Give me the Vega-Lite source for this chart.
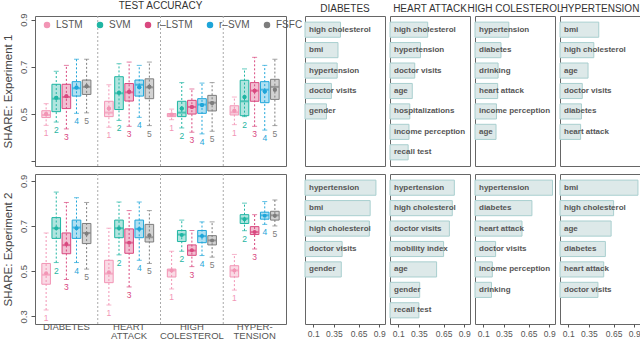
{
  "$schema": "https://vega.github.io/schema/vega-lite/v6.json",
  "padding": {"top": 0, "left": 1, "right": 1, "bottom": 0},
  "background": "white",
  "config": {
    "font": "Liberation Sans",
    "view": {"stroke": "#666", "strokeWidth": 1},
    "title": {"fontSize": 10, "fontWeight": "normal", "color": "#333", "offset": 2},
    "axis": {"labelColor": "#555", "tickColor": "#555", "titleColor": "#444"}
  },
  "datasets": {
    "box": [
      {"exp": 1, "disease": "DIABETES", "model": "LSTM", "m": "1", "lo": 0.452, "q1": 0.485, "med": 0.496, "q3": 0.514, "hi": 0.544, "mean": 0.5},
      {"exp": 1, "disease": "DIABETES", "model": "SVM", "m": "2", "lo": 0.466, "q1": 0.51, "med": 0.565, "q3": 0.626, "hi": 0.681, "mean": 0.569},
      {"exp": 1, "disease": "DIABETES", "model": "r–LSTM", "m": "3", "lo": 0.437, "q1": 0.523, "med": 0.572, "q3": 0.626, "hi": 0.706, "mean": 0.575},
      {"exp": 1, "disease": "DIABETES", "model": "r–SVM", "m": "4", "lo": 0.503, "q1": 0.576, "med": 0.609, "q3": 0.637, "hi": 0.732, "mean": 0.612},
      {"exp": 1, "disease": "DIABETES", "model": "FSFC", "m": "5", "lo": 0.505, "q1": 0.583, "med": 0.615, "q3": 0.644, "hi": 0.732, "mean": 0.618},
      {"exp": 1, "disease": "HEART ATTACK", "model": "LSTM", "m": "1", "lo": 0.444, "q1": 0.489, "med": 0.506, "q3": 0.554, "hi": 0.624, "mean": 0.523},
      {"exp": 1, "disease": "HEART ATTACK", "model": "SVM", "m": "2", "lo": 0.473, "q1": 0.519, "med": 0.588, "q3": 0.658, "hi": 0.713, "mean": 0.59},
      {"exp": 1, "disease": "HEART ATTACK", "model": "r–LSTM", "m": "3", "lo": 0.448, "q1": 0.555, "med": 0.592, "q3": 0.629, "hi": 0.72, "mean": 0.594},
      {"exp": 1, "disease": "HEART ATTACK", "model": "r–SVM", "m": "4", "lo": 0.486, "q1": 0.576, "med": 0.624, "q3": 0.644, "hi": 0.706, "mean": 0.613},
      {"exp": 1, "disease": "HEART ATTACK", "model": "FSFC", "m": "5", "lo": 0.451, "q1": 0.565, "med": 0.613, "q3": 0.649, "hi": 0.72, "mean": 0.615},
      {"exp": 1, "disease": "HIGH COLESTEROL", "model": "LSTM", "m": "1", "lo": 0.476, "q1": 0.489, "med": 0.496, "q3": 0.502, "hi": 0.521, "mean": 0.498},
      {"exp": 1, "disease": "HIGH COLESTEROL", "model": "SVM", "m": "2", "lo": 0.441, "q1": 0.489, "med": 0.506, "q3": 0.554, "hi": 0.633, "mean": 0.523},
      {"exp": 1, "disease": "HIGH COLESTEROL", "model": "r–LSTM", "m": "3", "lo": 0.423, "q1": 0.5, "med": 0.53, "q3": 0.558, "hi": 0.606, "mean": 0.53},
      {"exp": 1, "disease": "HIGH COLESTEROL", "model": "r–SVM", "m": "4", "lo": 0.416, "q1": 0.503, "med": 0.54, "q3": 0.565, "hi": 0.631, "mean": 0.538},
      {"exp": 1, "disease": "HIGH COLESTEROL", "model": "FSFC", "m": "5", "lo": 0.427, "q1": 0.513, "med": 0.548, "q3": 0.579, "hi": 0.633, "mean": 0.547},
      {"exp": 1, "disease": "HYPERTENSION", "model": "LSTM", "m": "1", "lo": 0.455, "q1": 0.496, "med": 0.507, "q3": 0.535, "hi": 0.572, "mean": 0.514},
      {"exp": 1, "disease": "HYPERTENSION", "model": "SVM", "m": "2", "lo": 0.489, "q1": 0.493, "med": 0.554, "q3": 0.643, "hi": 0.691, "mean": 0.572},
      {"exp": 1, "disease": "HYPERTENSION", "model": "r–LSTM", "m": "3", "lo": 0.448, "q1": 0.554, "med": 0.599, "q3": 0.633, "hi": 0.74, "mean": 0.599},
      {"exp": 1, "disease": "HYPERTENSION", "model": "r–SVM", "m": "4", "lo": 0.432, "q1": 0.548, "med": 0.603, "q3": 0.637, "hi": 0.706, "mean": 0.595},
      {"exp": 1, "disease": "HYPERTENSION", "model": "FSFC", "m": "5", "lo": 0.451, "q1": 0.562, "med": 0.615, "q3": 0.647, "hi": 0.732, "mean": 0.603},
      {"exp": 2, "disease": "DIABETES", "model": "LSTM", "m": "1", "lo": 0.328, "q1": 0.442, "med": 0.484, "q3": 0.534, "hi": 0.669, "mean": 0.491},
      {"exp": 2, "disease": "DIABETES", "model": "SVM", "m": "2", "lo": 0.538, "q1": 0.645, "med": 0.69, "q3": 0.737, "hi": 0.85, "mean": 0.69},
      {"exp": 2, "disease": "DIABETES", "model": "r–LSTM", "m": "3", "lo": 0.463, "q1": 0.577, "med": 0.615, "q3": 0.669, "hi": 0.804, "mean": 0.62},
      {"exp": 2, "disease": "DIABETES", "model": "r–SVM", "m": "4", "lo": 0.538, "q1": 0.645, "med": 0.693, "q3": 0.726, "hi": 0.825, "mean": 0.69},
      {"exp": 2, "disease": "DIABETES", "model": "FSFC", "m": "5", "lo": 0.509, "q1": 0.622, "med": 0.669, "q3": 0.711, "hi": 0.804, "mean": 0.665},
      {"exp": 2, "disease": "HEART ATTACK", "model": "LSTM", "m": "1", "lo": 0.35, "q1": 0.449, "med": 0.489, "q3": 0.548, "hi": 0.69, "mean": 0.495},
      {"exp": 2, "disease": "HEART ATTACK", "model": "SVM", "m": "2", "lo": 0.572, "q1": 0.648, "med": 0.69, "q3": 0.726, "hi": 0.806, "mean": 0.69},
      {"exp": 2, "disease": "HEART ATTACK", "model": "r–LSTM", "m": "3", "lo": 0.43, "q1": 0.579, "med": 0.626, "q3": 0.687, "hi": 0.768, "mean": 0.626},
      {"exp": 2, "disease": "HEART ATTACK", "model": "r–SVM", "m": "4", "lo": 0.548, "q1": 0.648, "med": 0.687, "q3": 0.726, "hi": 0.806, "mean": 0.687},
      {"exp": 2, "disease": "HEART ATTACK", "model": "FSFC", "m": "5", "lo": 0.534, "q1": 0.629, "med": 0.65, "q3": 0.707, "hi": 0.768, "mean": 0.659},
      {"exp": 2, "disease": "HIGH COLESTEROL", "model": "LSTM", "m": "1", "lo": 0.421, "q1": 0.474, "med": 0.503, "q3": 0.509, "hi": 0.588, "mean": 0.503},
      {"exp": 2, "disease": "HIGH COLESTEROL", "model": "SVM", "m": "2", "lo": 0.588, "q1": 0.631, "med": 0.662, "q3": 0.68, "hi": 0.726, "mean": 0.66},
      {"exp": 2, "disease": "HIGH COLESTEROL", "model": "r–LSTM", "m": "3", "lo": 0.52, "q1": 0.57, "med": 0.591, "q3": 0.616, "hi": 0.68, "mean": 0.592},
      {"exp": 2, "disease": "HIGH COLESTEROL", "model": "r–SVM", "m": "4", "lo": 0.569, "q1": 0.626, "med": 0.655, "q3": 0.68, "hi": 0.718, "mean": 0.655},
      {"exp": 2, "disease": "HIGH COLESTEROL", "model": "FSFC", "m": "5", "lo": 0.562, "q1": 0.616, "med": 0.636, "q3": 0.657, "hi": 0.718, "mean": 0.636},
      {"exp": 2, "disease": "HYPERTENSION", "model": "LSTM", "m": "1", "lo": 0.416, "q1": 0.474, "med": 0.503, "q3": 0.524, "hi": 0.574, "mean": 0.503},
      {"exp": 2, "disease": "HYPERTENSION", "model": "SVM", "m": "2", "lo": 0.679, "q1": 0.711, "med": 0.733, "q3": 0.75, "hi": 0.801, "mean": 0.73},
      {"exp": 2, "disease": "HYPERTENSION", "model": "r–LSTM", "m": "3", "lo": 0.598, "q1": 0.662, "med": 0.673, "q3": 0.697, "hi": 0.75, "mean": 0.673},
      {"exp": 2, "disease": "HYPERTENSION", "model": "r–SVM", "m": "4", "lo": 0.707, "q1": 0.73, "med": 0.747, "q3": 0.761, "hi": 0.808, "mean": 0.745},
      {"exp": 2, "disease": "HYPERTENSION", "model": "FSFC", "m": "5", "lo": 0.7, "q1": 0.726, "med": 0.747, "q3": 0.765, "hi": 0.815, "mean": 0.745}
    ],
    "bars": [
      {"exp": 1, "target": "DIABETES", "rank": 1, "feature": "high cholesterol", "imp": 0.43},
      {"exp": 1, "target": "DIABETES", "rank": 2, "feature": "bmi", "imp": 0.40},
      {"exp": 1, "target": "DIABETES", "rank": 3, "feature": "hypertension", "imp": 0.39},
      {"exp": 1, "target": "DIABETES", "rank": 4, "feature": "doctor visits", "imp": 0.32},
      {"exp": 1, "target": "DIABETES", "rank": 5, "feature": "gender", "imp": 0.26},
      {"exp": 1, "target": "HEART ATTACK", "rank": 1, "feature": "high cholesterol", "imp": 0.457},
      {"exp": 1, "target": "HEART ATTACK", "rank": 2, "feature": "hypertension", "imp": 0.37},
      {"exp": 1, "target": "HEART ATTACK", "rank": 3, "feature": "doctor visits", "imp": 0.30},
      {"exp": 1, "target": "HEART ATTACK", "rank": 4, "feature": "age", "imp": 0.27},
      {"exp": 1, "target": "HEART ATTACK", "rank": 5, "feature": "hospitalizations", "imp": 0.24},
      {"exp": 1, "target": "HEART ATTACK", "rank": 6, "feature": "income perception", "imp": 0.23},
      {"exp": 1, "target": "HEART ATTACK", "rank": 7, "feature": "recall test", "imp": 0.22},
      {"exp": 1, "target": "HIGH COLESTEROL", "rank": 1, "feature": "hypertension", "imp": 0.41},
      {"exp": 1, "target": "HIGH COLESTEROL", "rank": 2, "feature": "diabetes", "imp": 0.315},
      {"exp": 1, "target": "HIGH COLESTEROL", "rank": 3, "feature": "drinking", "imp": 0.28},
      {"exp": 1, "target": "HIGH COLESTEROL", "rank": 4, "feature": "heart attack", "imp": 0.275},
      {"exp": 1, "target": "HIGH COLESTEROL", "rank": 5, "feature": "income perception", "imp": 0.26},
      {"exp": 1, "target": "HIGH COLESTEROL", "rank": 6, "feature": "age", "imp": 0.255},
      {"exp": 1, "target": "HYPERTENSION", "rank": 1, "feature": "bmi", "imp": 0.47},
      {"exp": 1, "target": "HYPERTENSION", "rank": 2, "feature": "high cholesterol", "imp": 0.41},
      {"exp": 1, "target": "HYPERTENSION", "rank": 3, "feature": "age", "imp": 0.34},
      {"exp": 1, "target": "HYPERTENSION", "rank": 4, "feature": "doctor visits", "imp": 0.27},
      {"exp": 1, "target": "HYPERTENSION", "rank": 5, "feature": "diabetes", "imp": 0.26},
      {"exp": 1, "target": "HYPERTENSION", "rank": 6, "feature": "heart attack", "imp": 0.25},
      {"exp": 2, "target": "DIABETES", "rank": 1, "feature": "hypertension", "imp": 0.86},
      {"exp": 2, "target": "DIABETES", "rank": 2, "feature": "bmi", "imp": 0.79},
      {"exp": 2, "target": "DIABETES", "rank": 3, "feature": "high cholesterol", "imp": 0.78},
      {"exp": 2, "target": "DIABETES", "rank": 4, "feature": "doctor visits", "imp": 0.45},
      {"exp": 2, "target": "DIABETES", "rank": 5, "feature": "gender", "imp": 0.44},
      {"exp": 2, "target": "HEART ATTACK", "rank": 1, "feature": "hypertension", "imp": 0.78},
      {"exp": 2, "target": "HEART ATTACK", "rank": 2, "feature": "high cholesterol", "imp": 0.755},
      {"exp": 2, "target": "HEART ATTACK", "rank": 3, "feature": "doctor visits", "imp": 0.72},
      {"exp": 2, "target": "HEART ATTACK", "rank": 4, "feature": "mobility index", "imp": 0.65},
      {"exp": 2, "target": "HEART ATTACK", "rank": 5, "feature": "age", "imp": 0.565},
      {"exp": 2, "target": "HEART ATTACK", "rank": 6, "feature": "gender", "imp": 0.36},
      {"exp": 2, "target": "HEART ATTACK", "rank": 7, "feature": "recall test", "imp": 0.35},
      {"exp": 2, "target": "HIGH COLESTEROL", "rank": 1, "feature": "hypertension", "imp": 0.94},
      {"exp": 2, "target": "HIGH COLESTEROL", "rank": 2, "feature": "diabetes", "imp": 0.69},
      {"exp": 2, "target": "HIGH COLESTEROL", "rank": 3, "feature": "heart attack", "imp": 0.57},
      {"exp": 2, "target": "HIGH COLESTEROL", "rank": 4, "feature": "doctor visits", "imp": 0.25},
      {"exp": 2, "target": "HIGH COLESTEROL", "rank": 5, "feature": "income perception", "imp": 0.21},
      {"exp": 2, "target": "HIGH COLESTEROL", "rank": 6, "feature": "drinking", "imp": 0.20},
      {"exp": 2, "target": "HYPERTENSION", "rank": 1, "feature": "bmi", "imp": 0.945},
      {"exp": 2, "target": "HYPERTENSION", "rank": 2, "feature": "high cholesterol", "imp": 0.65},
      {"exp": 2, "target": "HYPERTENSION", "rank": 3, "feature": "age", "imp": 0.62},
      {"exp": 2, "target": "HYPERTENSION", "rank": 4, "feature": "diabetes", "imp": 0.55},
      {"exp": 2, "target": "HYPERTENSION", "rank": 5, "feature": "heart attack", "imp": 0.53},
      {"exp": 2, "target": "HYPERTENSION", "rank": 6, "feature": "doctor visits", "imp": 0.46}
    ]
  },
  "hconcat": [
    {
      "vconcat": [
        {
          "width": 251, "height": 150,
          "data": {"name": "box"},
          "transform": [{"filter": "datum.exp == 1"}],
          "title": {"text": "TEST ACCURACY"},
          "layer": [
            {
              "transform": [{"filter": "datum.model == 'LSTM' && datum.disease != 'DIABETES'"}],
              "mark": {"type": "rule", "strokeDash": [2, 2], "color": "#aaaaaa", "strokeWidth": 1},
              "encoding": {"x": {"field": "disease", "type": "nominal", "bandPosition": 0, "sort": null, "scale": {"domain": ["DIABETES", "HEART ATTACK", "HIGH COLESTEROL", "HYPERTENSION"], "paddingInner": 0, "paddingOuter": 0}, "axis": null}}
            },
            {
              "encoding": {
                "x": {"field": "disease", "type": "nominal", "sort": null, "axis": null},
                "xOffset": {"field": "model", "type": "nominal", "sort": null, "scale": {"domain": ["LSTM", "SVM", "r–LSTM", "r–SVM", "FSFC"], "paddingInner": 0.15, "paddingOuter": 0.675}},
                "color": {"field": "model", "type": "nominal", "sort": null, "scale": {"domain": ["LSTM", "SVM", "r–LSTM", "r–SVM", "FSFC"], "range": ["#f295b5", "#1fb5a3", "#d9487f", "#1ea5d9", "#7d7d7d"]}, "legend": null}
              },
              "layer": [
                {
                  "mark": {"type": "point", "filled": true, "opacity": 1, "size": 16, "shape": "circle"},
                  "encoding": {
                    "y": {"field": "mean", "type": "quantitative", "scale": {"domain": [0.28, 0.915], "nice": false, "zero": false},
                      "axis": {"title": "SHARE: Experiment 1", "values": [0.3, 0.4, 0.5, 0.6, 0.7, 0.8, 0.9], "labelExpr": "datum.value < 0.35 ? '' : datum.label", "labelAngle": -90, "labelAlign": "center", "labelBaseline": "bottom", "labelFontSize": 9.5, "labelPadding": 3, "tickSize": 4, "domain": false, "grid": false, "titleFontSize": 11.5, "titleFontWeight": "normal", "titlePadding": 5}},
                    "color": {"field": "model", "type": "nominal", "sort": null, "legend": {"title": null, "orient": "none", "legendX": 7, "legendY": 4, "direction": "horizontal", "columns": 5, "gridAlign": "none", "symbolType": "circle", "symbolSize": 25, "labelFontSize": 10, "labelColor": "#555", "columnPadding": 11, "labelOffset": 4, "padding": 0}}
                  }
                },
                {"mark": {"type": "rule", "strokeDash": [2, 2], "strokeWidth": 1}, "encoding": {"y": {"field": "lo", "type": "quantitative"}, "y2": {"field": "hi"}}},
                {"mark": {"type": "tick", "size": 5, "thickness": 1}, "encoding": {"y": {"field": "hi", "type": "quantitative"}}},
                {"mark": {"type": "tick", "size": 5, "thickness": 1}, "encoding": {"y": {"field": "lo", "type": "quantitative"}}},
                {"mark": {"type": "bar", "fillOpacity": 0.35, "strokeWidth": 1}, "encoding": {"y": {"field": "q1", "type": "quantitative"}, "y2": {"field": "q3"}, "stroke": {"field": "model", "type": "nominal", "sort": null, "scale": {"domain": ["LSTM", "SVM", "r–LSTM", "r–SVM", "FSFC"], "range": ["#f295b5", "#1fb5a3", "#d9487f", "#1ea5d9", "#7d7d7d"]}, "legend": null}}},
                {"mark": {"type": "tick", "size": 8, "thickness": 2}, "encoding": {"y": {"field": "med", "type": "quantitative"}}},
                {"mark": {"type": "point", "filled": true, "opacity": 1, "size": 16, "shape": "circle"}, "encoding": {"y": {"field": "mean", "type": "quantitative"}}},
                {"mark": {"type": "text", "baseline": "top", "dy": 4, "fontSize": 8.5}, "encoding": {"y": {"field": "lo", "type": "quantitative"}, "text": {"field": "m"}}}
              ]
            }
          ]
        },
        {
          "width": 251, "height": 150,
          "data": {"name": "box"},
          "transform": [{"filter": "datum.exp == 2"}],
          "layer": [
            {
              "transform": [{"filter": "datum.model == 'LSTM' && datum.disease != 'DIABETES'"}],
              "mark": {"type": "rule", "strokeDash": [2, 2], "color": "#aaaaaa", "strokeWidth": 1},
              "encoding": {"x": {"field": "disease", "type": "nominal", "bandPosition": 0, "sort": null, "scale": {"domain": ["DIABETES", "HEART ATTACK", "HIGH COLESTEROL", "HYPERTENSION"], "paddingInner": 0, "paddingOuter": 0},
                "axis": {"title": null, "ticks": false, "domain": false, "labelAngle": 0, "labelFontSize": 9.5, "labelColor": "#555", "labelPadding": 2, "labelBaseline": "middle", "labelLineHeight": 9.5, "labelOverlap": false, "labelExpr": "datum.value == 'HEART ATTACK' ? ['HEART', 'ATTACK'] : datum.value == 'HIGH COLESTEROL' ? ['HIGH', 'COLESTEROL'] : datum.value == 'HYPERTENSION' ? ['HYPER-', 'TENSION'] : datum.value",
                  "encode": {"labels": {"update": {"dy": {"signal": "datum.value == 'DIABETES' ? 5 : 0"}}}}}}}
            },
            {
              "encoding": {
                "x": {"field": "disease", "type": "nominal", "sort": null},
                "xOffset": {"field": "model", "type": "nominal", "sort": null, "scale": {"domain": ["LSTM", "SVM", "r–LSTM", "r–SVM", "FSFC"], "paddingInner": 0.15, "paddingOuter": 0.675}},
                "color": {"field": "model", "type": "nominal", "sort": null, "scale": {"domain": ["LSTM", "SVM", "r–LSTM", "r–SVM", "FSFC"], "range": ["#f295b5", "#1fb5a3", "#d9487f", "#1ea5d9", "#7d7d7d"]}, "legend": null}
              },
              "layer": [
                {"mark": {"type": "rule", "strokeDash": [2, 2], "strokeWidth": 1}, "encoding": {"y": {"field": "lo", "type": "quantitative", "scale": {"domain": [0.266, 0.93], "nice": false, "zero": false},
                  "axis": {"title": "SHARE: Experiment 2", "values": [0.3, 0.4, 0.5, 0.6, 0.7, 0.8, 0.9], "labelAngle": -90, "labelAlign": "center", "labelBaseline": "bottom", "labelFontSize": 9.5, "labelPadding": 3, "tickSize": 4, "domain": false, "grid": false, "titleFontSize": 11.5, "titleFontWeight": "normal", "titlePadding": 5}}, "y2": {"field": "hi"}}},
                {"mark": {"type": "tick", "size": 5, "thickness": 1}, "encoding": {"y": {"field": "hi", "type": "quantitative"}}},
                {"mark": {"type": "tick", "size": 5, "thickness": 1}, "encoding": {"y": {"field": "lo", "type": "quantitative"}}},
                {"mark": {"type": "bar", "fillOpacity": 0.35, "strokeWidth": 1}, "encoding": {"y": {"field": "q1", "type": "quantitative"}, "y2": {"field": "q3"}, "stroke": {"field": "model", "type": "nominal", "sort": null, "scale": {"domain": ["LSTM", "SVM", "r–LSTM", "r–SVM", "FSFC"], "range": ["#f295b5", "#1fb5a3", "#d9487f", "#1ea5d9", "#7d7d7d"]}, "legend": null}}},
                {"mark": {"type": "tick", "size": 8, "thickness": 2}, "encoding": {"y": {"field": "med", "type": "quantitative"}}},
                {"mark": {"type": "point", "filled": true, "opacity": 1, "size": 16, "shape": "circle"}, "encoding": {"y": {"field": "mean", "type": "quantitative"}}},
                {"mark": {"type": "text", "baseline": "top", "dy": 4, "fontSize": 8.5}, "encoding": {"y": {"field": "lo", "type": "quantitative"}, "text": {"field": "m"}}}
              ]
            }
          ]
        }
      ],
      "spacing": 6,
      "resolve": {"scale": {"y": "independent", "color": "independent", "stroke": "independent"}, "legend": {"color": "independent"}}
    },
    {
      "vconcat": [
        {
          "hconcat": [
            {
              "width": 80, "height": 150, "title": "DIABETES",
              "data": {"name": "bars"},
              "transform": [{"filter": "datum.exp == 1 && datum.target == 'DIABETES'"}],
              "encoding": {"y": {"field": "rank", "type": "ordinal", "scale": {"domain": [1, 2, 3, 4, 5, 6, 7], "paddingInner": 0.26, "paddingOuter": 0.3}, "axis": null}},
              "layer": [
                {"mark": {"type": "bar", "fill": "#dde9e9", "stroke": "#a9cfcf", "strokeWidth": 1}, "encoding": {"x": {"field": "imp", "type": "quantitative", "scale": {"domain": [0, 0.97], "nice": false}, "axis": null}}},
                {"mark": {"type": "text", "align": "left", "dx": 4, "fontSize": 8, "fontWeight": "bold", "fill": "#555"}, "encoding": {"x": {"datum": 0, "type": "quantitative", "axis": null}, "text": {"field": "feature"}}}
              ]
            },
            {
              "width": 80, "height": 150, "title": "HEART ATTACK",
              "data": {"name": "bars"},
              "transform": [{"filter": "datum.exp == 1 && datum.target == 'HEART ATTACK'"}],
              "encoding": {"y": {"field": "rank", "type": "ordinal", "scale": {"domain": [1, 2, 3, 4, 5, 6, 7], "paddingInner": 0.26, "paddingOuter": 0.3}, "axis": null}},
              "layer": [
                {"mark": {"type": "bar", "fill": "#dde9e9", "stroke": "#a9cfcf", "strokeWidth": 1}, "encoding": {"x": {"field": "imp", "type": "quantitative", "scale": {"domain": [0, 0.97], "nice": false}, "axis": null}}},
                {"mark": {"type": "text", "align": "left", "dx": 4, "fontSize": 8, "fontWeight": "bold", "fill": "#555"}, "encoding": {"x": {"datum": 0, "type": "quantitative", "axis": null}, "text": {"field": "feature"}}}
              ]
            },
            {
              "width": 80, "height": 150, "title": "HIGH COLESTEROL",
              "data": {"name": "bars"},
              "transform": [{"filter": "datum.exp == 1 && datum.target == 'HIGH COLESTEROL'"}],
              "encoding": {"y": {"field": "rank", "type": "ordinal", "scale": {"domain": [1, 2, 3, 4, 5, 6, 7], "paddingInner": 0.26, "paddingOuter": 0.3}, "axis": null}},
              "layer": [
                {"mark": {"type": "bar", "fill": "#dde9e9", "stroke": "#a9cfcf", "strokeWidth": 1}, "encoding": {"x": {"field": "imp", "type": "quantitative", "scale": {"domain": [0, 0.97], "nice": false}, "axis": null}}},
                {"mark": {"type": "text", "align": "left", "dx": 4, "fontSize": 8, "fontWeight": "bold", "fill": "#555"}, "encoding": {"x": {"datum": 0, "type": "quantitative", "axis": null}, "text": {"field": "feature"}}}
              ]
            },
            {
              "width": 80, "height": 150, "title": "HYPERTENSION",
              "data": {"name": "bars"},
              "transform": [{"filter": "datum.exp == 1 && datum.target == 'HYPERTENSION'"}],
              "encoding": {"y": {"field": "rank", "type": "ordinal", "scale": {"domain": [1, 2, 3, 4, 5, 6, 7], "paddingInner": 0.26, "paddingOuter": 0.3}, "axis": null}},
              "layer": [
                {"mark": {"type": "bar", "fill": "#dde9e9", "stroke": "#a9cfcf", "strokeWidth": 1}, "encoding": {"x": {"field": "imp", "type": "quantitative", "scale": {"domain": [0, 0.97], "nice": false}, "axis": null}}},
                {"mark": {"type": "text", "align": "left", "dx": 4, "fontSize": 8, "fontWeight": "bold", "fill": "#555"}, "encoding": {"x": {"datum": 0, "type": "quantitative", "axis": null}, "text": {"field": "feature"}}}
              ]
            }
          ],
          "spacing": 5,
          "bounds": "flush"
        },
        {
          "hconcat": [
            {
              "width": 80, "height": 150,
              "data": {"name": "bars"},
              "transform": [{"filter": "datum.exp == 2 && datum.target == 'DIABETES'"}],
              "encoding": {"y": {"field": "rank", "type": "ordinal", "scale": {"domain": [1, 2, 3, 4, 5, 6, 7], "paddingInner": 0.26, "paddingOuter": 0.3}, "axis": null}},
              "layer": [
                {"mark": {"type": "bar", "fill": "#dde9e9", "stroke": "#a9cfcf", "strokeWidth": 1}, "encoding": {"x": {"field": "imp", "type": "quantitative", "scale": {"domain": [0, 0.97], "nice": false}, "axis": {"title": null, "values": [0.1, 0.35, 0.65, 0.9], "format": ".2~f", "grid": false, "domain": false, "tickSize": 3, "labelFontSize": 8.5, "labelPadding": 2, "labelOverlap": false, "labelSeparation": 0, "labelBound": false, "labelFlush": false}}}},
                {"mark": {"type": "text", "align": "left", "dx": 4, "fontSize": 8, "fontWeight": "bold", "fill": "#555"}, "encoding": {"x": {"datum": 0, "type": "quantitative", "axis": {"title": null, "values": [0.1, 0.35, 0.65, 0.9], "format": ".2~f", "grid": false, "domain": false, "tickSize": 3, "labelFontSize": 8.5, "labelPadding": 2, "labelOverlap": false, "labelSeparation": 0, "labelBound": false, "labelFlush": false}}, "text": {"field": "feature"}}}
              ]
            },
            {
              "width": 80, "height": 150,
              "data": {"name": "bars"},
              "transform": [{"filter": "datum.exp == 2 && datum.target == 'HEART ATTACK'"}],
              "encoding": {"y": {"field": "rank", "type": "ordinal", "scale": {"domain": [1, 2, 3, 4, 5, 6, 7], "paddingInner": 0.26, "paddingOuter": 0.3}, "axis": null}},
              "layer": [
                {"mark": {"type": "bar", "fill": "#dde9e9", "stroke": "#a9cfcf", "strokeWidth": 1}, "encoding": {"x": {"field": "imp", "type": "quantitative", "scale": {"domain": [0, 0.97], "nice": false}, "axis": {"title": null, "values": [0.1, 0.35, 0.65, 0.9], "format": ".2~f", "grid": false, "domain": false, "tickSize": 3, "labelFontSize": 8.5, "labelPadding": 2, "labelOverlap": false, "labelSeparation": 0, "labelBound": false, "labelFlush": false}}}},
                {"mark": {"type": "text", "align": "left", "dx": 4, "fontSize": 8, "fontWeight": "bold", "fill": "#555"}, "encoding": {"x": {"datum": 0, "type": "quantitative", "axis": {"title": null, "values": [0.1, 0.35, 0.65, 0.9], "format": ".2~f", "grid": false, "domain": false, "tickSize": 3, "labelFontSize": 8.5, "labelPadding": 2, "labelOverlap": false, "labelSeparation": 0, "labelBound": false, "labelFlush": false}}, "text": {"field": "feature"}}}
              ]
            },
            {
              "width": 80, "height": 150,
              "data": {"name": "bars"},
              "transform": [{"filter": "datum.exp == 2 && datum.target == 'HIGH COLESTEROL'"}],
              "encoding": {"y": {"field": "rank", "type": "ordinal", "scale": {"domain": [1, 2, 3, 4, 5, 6, 7], "paddingInner": 0.26, "paddingOuter": 0.3}, "axis": null}},
              "layer": [
                {"mark": {"type": "bar", "fill": "#dde9e9", "stroke": "#a9cfcf", "strokeWidth": 1}, "encoding": {"x": {"field": "imp", "type": "quantitative", "scale": {"domain": [0, 0.97], "nice": false}, "axis": {"title": null, "values": [0.1, 0.35, 0.65, 0.9], "format": ".2~f", "grid": false, "domain": false, "tickSize": 3, "labelFontSize": 8.5, "labelPadding": 2, "labelOverlap": false, "labelSeparation": 0, "labelBound": false, "labelFlush": false}}}},
                {"mark": {"type": "text", "align": "left", "dx": 4, "fontSize": 8, "fontWeight": "bold", "fill": "#555"}, "encoding": {"x": {"datum": 0, "type": "quantitative", "axis": {"title": null, "values": [0.1, 0.35, 0.65, 0.9], "format": ".2~f", "grid": false, "domain": false, "tickSize": 3, "labelFontSize": 8.5, "labelPadding": 2, "labelOverlap": false, "labelSeparation": 0, "labelBound": false, "labelFlush": false}}, "text": {"field": "feature"}}}
              ]
            },
            {
              "width": 80, "height": 150,
              "data": {"name": "bars"},
              "transform": [{"filter": "datum.exp == 2 && datum.target == 'HYPERTENSION'"}],
              "encoding": {"y": {"field": "rank", "type": "ordinal", "scale": {"domain": [1, 2, 3, 4, 5, 6, 7], "paddingInner": 0.26, "paddingOuter": 0.3}, "axis": null}},
              "layer": [
                {"mark": {"type": "bar", "fill": "#dde9e9", "stroke": "#a9cfcf", "strokeWidth": 1}, "encoding": {"x": {"field": "imp", "type": "quantitative", "scale": {"domain": [0, 0.97], "nice": false}, "axis": {"title": null, "values": [0.1, 0.35, 0.65, 0.9], "format": ".2~f", "grid": false, "domain": false, "tickSize": 3, "labelFontSize": 8.5, "labelPadding": 2, "labelOverlap": false, "labelSeparation": 0, "labelBound": false, "labelFlush": false}}}},
                {"mark": {"type": "text", "align": "left", "dx": 4, "fontSize": 8, "fontWeight": "bold", "fill": "#555"}, "encoding": {"x": {"datum": 0, "type": "quantitative", "axis": {"title": null, "values": [0.1, 0.35, 0.65, 0.9], "format": ".2~f", "grid": false, "domain": false, "tickSize": 3, "labelFontSize": 8.5, "labelPadding": 2, "labelOverlap": false, "labelSeparation": 0, "labelBound": false, "labelFlush": false}}, "text": {"field": "feature"}}}
              ]
            }
          ],
          "spacing": 5,
          "bounds": "flush"
        }
      ],
      "spacing": 6
    }
  ],
  "spacing": 0,
  "resolve": {"scale": {"color": "independent", "stroke": "independent"}}
}
